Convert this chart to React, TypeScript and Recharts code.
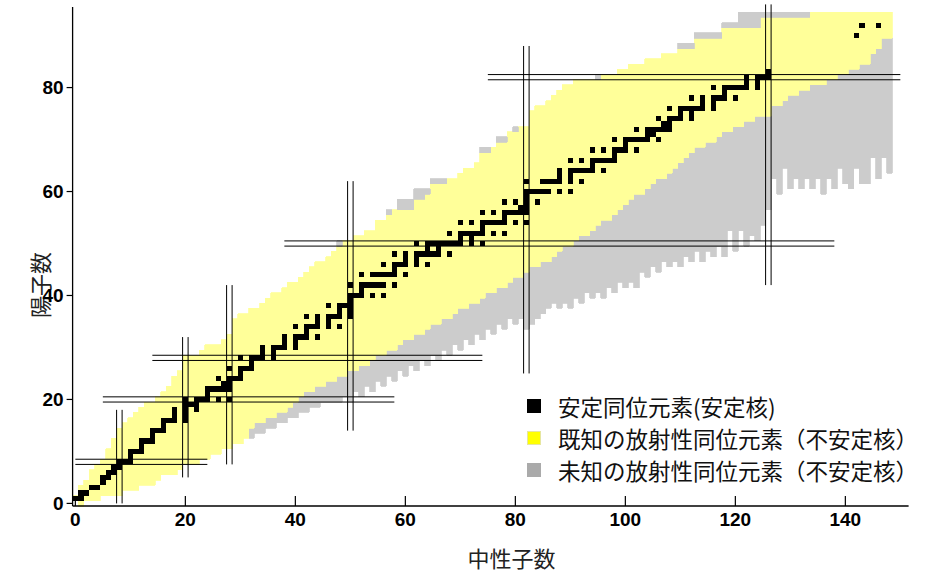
import React from 'react';
import { ComposedChart, XAxis, YAxis, Scatter, ReferenceArea, ReferenceLine, Legend } from 'recharts';

// ---- data (index of each column array = neutron number N) ----
const YELLOW_TOP: number[] = [
  1, 3, 4, 6, 7, 8, 10, 12, 14, 15,
  16, 17, 18, 19, 19, 20, 21, 22, 24, 25,
  28, 28, 28, 29, 30, 30, 30, 31, 32, 35,
  36, 36, 37, 37, 38, 39, 40, 40, 41, 42,
  42, 43, 44, 45, 46, 46, 47, 48, 49, 50,
  50, 51, 51, 52, 52, 54, 54, 55, 56, 56,
  56, 57, 58, 58, 59, 61, 61, 61, 62, 62,
  63, 64, 64, 65, 67, 67, 68, 69, 69, 71,
  71, 72, 72, 75, 76, 76, 77, 78, 79, 80,
  80, 81, 81, 81, 81, 81, 82, 82, 82, 83,
  83, 84, 84, 84, 85, 85, 85, 86, 86, 86,
  87, 87, 87, 89, 89, 89, 89, 89, 91, 91,
  91, 91, 91, 91, 91, 93, 93, 93, 93, 93,
  93, 93, 93, 93, 94, 94, 94, 94, 94, 94,
  94, 94, 94, 94, 94, 94, 94, 94, 94,
];
const YELLOW_BOT: number[] = [
  1, 0, 1, 1, 1, 2, 2, 2, 2, 3,
  3, 3, 4, 4, 4, 5, 6, 6, 6, 7,
  8, 8, 8, 9, 9, 10, 10, 11, 11, 12,
  12, 13, 15, 16, 16, 17, 17, 18, 18, 19,
  20, 21, 22, 22, 23, 23, 24, 24, 25, 25,
  26, 26, 27, 27, 28, 29, 29, 30, 30, 31,
  32, 32, 33, 33, 34, 35, 35, 36, 36, 37,
  38, 38, 39, 39, 40, 41, 41, 42, 42, 43,
  44, 44, 45, 46, 46, 47, 47, 48, 49, 50,
  50, 51, 52, 52, 53, 54, 55, 55, 56, 57,
  58, 59, 60, 60, 61, 62, 63, 63, 64, 65,
  66, 67, 68, 69, 69, 70, 70, 71, 72, 72,
  73, 73, 74, 74, 75, 75, 75, 77, 77, 78,
  79, 79, 80, 80, 81, 81, 81, 82, 82, 83,
  83, 84, 84, 85, 85, 87, 88, 90, 90,
];
// lowest Z of the neutron-rich unknown (grey) band; it reaches up to the yellow
const GRAY_BOT: (number | null)[] = [
  null, null, null, null, null, null, null, null, null, null,
  null, null, null, null, null, null, null, null, null, null,
  null, null, null, null, null, null, null, null, null, null,
  null, null, 13, 14, 14, 15, 15, 16, 16, 17,
  17, 18, 18, 19, 19, 20, 20, 20, 20, 21,
  20, 22, 21, 23, 22, 24, 23, 25, 24, 26,
  25, 27, 26, 28, 27, 29, 28, 30, 29, 31,
  30, 32, 31, 33, 32, 34, 33, 35, 34, 36,
  35, 36, 34, 35, 36, 37, 38, 39, 38, 39,
  38, 40, 39, 41, 40, 41, 40, 42, 41, 43,
  42, 43, 42, 45, 44, 46, 45, 47, 46, 47,
  46, 48, 47, 49, 47, 49, 48, 50, 48, 53,
  49, 53, 50, 52, 51, 54, 57, 63, 60, 65,
  61, 63, 61, 63, 61, 63, 60, 63, 61, 65,
  62, 61, 65, 62, 62, 67, 63, 67, 64,
];
// proton-rich unknown (grey) cells sitting above the yellow
const CAP_N = [48, 57, 59, 60, 61, 62, 63, 64, 65, 66, 67, 74, 75, 77, 78, 80, 95, 110, 111, 112, 113, 114, 115, 116, 117, 118, 119, 120, 121, 122, 123, 124, 125, 126, 127, 128, 129, 130, 131, 132, 133];
const CAP_LO = [50, 56, 57, 57, 57, 59, 59, 60, 62, 62, 62, 68, 68, 70, 70, 72, 82, 88, 88, 88, 90, 90, 90, 90, 90, 92, 92, 92, 92, 92, 92, 92, 94, 94, 94, 94, 94, 94, 94, 94, 94];
const CAP_HI = [50, 56, 58, 58, 58, 60, 60, 60, 62, 62, 62, 68, 68, 70, 70, 72, 82, 88, 88, 88, 90, 90, 90, 90, 90, 92, 92, 92, 94, 94, 94, 94, 94, 94, 94, 94, 94, 94, 94, 94, 94];

// stable nuclides: [Z, list of N]
const STABLE: [number, number[]][] = [
  [1, [0, 1]], [2, [1, 2]], [3, [3, 4]], [4, [5]], [5, [5, 6]], [6, [6, 7]], [7, [7, 8]], [8, [8, 9, 10]], [9, [10]], [10, [10, 11, 12]],
  [11, [12]], [12, [12, 13, 14]], [13, [14]], [14, [14, 15, 16]], [15, [16]], [16, [16, 17, 18, 20]], [17, [18, 20]], [18, [18, 20, 22]], [19, [20, 21, 22]], [20, [20, 22, 23, 24, 26, 28]],
  [21, [24]], [22, [24, 25, 26, 27, 28]], [23, [27, 28]], [24, [26, 28, 29, 30]], [25, [30]], [26, [28, 30, 31, 32]], [27, [32]], [28, [30, 32, 33, 34, 36]], [29, [34, 36]], [30, [34, 36, 37, 38, 40]],
  [31, [38, 40]], [32, [38, 40, 41, 42, 44]], [33, [42]], [34, [40, 42, 43, 44, 46, 48]], [35, [44, 46]], [36, [42, 44, 46, 47, 48, 50]], [37, [48, 50]], [38, [46, 48, 49, 50]], [39, [50]], [40, [50, 51, 52, 54, 56]],
  [41, [52]], [42, [50, 52, 53, 54, 55, 56, 58]], [44, [52, 54, 55, 56, 57, 58, 60]], [45, [58]], [46, [56, 58, 59, 60, 62, 64]], [47, [60, 62]], [48, [58, 60, 62, 63, 64, 65, 66, 68]], [49, [64, 66]], [50, [62, 64, 65, 66, 67, 68, 69, 70, 72, 74]],
  [51, [70, 72]], [52, [68, 70, 71, 72, 73, 74, 76, 78]], [53, [74]], [54, [70, 72, 74, 75, 76, 77, 78, 80, 82]], [55, [78]], [56, [74, 76, 78, 79, 80, 81, 82]], [57, [81, 82]], [58, [78, 80, 82, 84]], [59, [82]], [60, [82, 83, 84, 85, 86, 88, 90]],
  [62, [82, 85, 86, 87, 88, 90, 92]], [63, [88, 90]], [64, [88, 90, 91, 92, 93, 94, 96]], [65, [94]], [66, [90, 92, 94, 95, 96, 97, 98]], [67, [98]], [68, [94, 96, 98, 99, 100, 102]], [69, [100]], [70, [98, 100, 101, 102, 103, 104, 106]],
  [71, [104, 105]], [72, [102, 104, 105, 106, 107, 108]], [73, [107, 108]], [74, [106, 108, 109, 110, 112]], [75, [110, 112]], [76, [108, 110, 111, 112, 113, 114, 116]], [77, [114, 116]], [78, [112, 114, 116, 117, 118, 120]], [79, [118]], [80, [116, 118, 119, 120, 121, 122, 124]],
  [81, [122, 124]], [82, [122, 124, 125, 126]], [83, [126]], [90, [142]], [92, [143, 146]],
];

// magic numbers (double lines) and their extents
const MAGIC_N = [8, 20, 28, 50, 82, 126];
const MAGIC_N_ZFROM = [0, 5, 7.5, 14, 25, 42];
const MAGIC_N_ZTO = [18, 32, 42, 62, 88, 96];
const MAGIC_Z = [8, 20, 28, 50, 82];
const MAGIC_Z_NFROM = [0, 5, 14, 38, 75];
const MAGIC_Z_NTO = [24, 58, 74, 138, 150];

const X_TICKS = [0, 20, 40, 60, 80, 100, 120, 140];
const Y_TICKS = [0, 20, 40, 60, 80];

const LEGEND_LABELS = ['安定同位元素(安定核)', '既知の放射性同位元素（不安定核）', '未知の放射性同位元素（不安定核）'];
const LEGEND_COLORS = ['#000000', '#ffff00', '#aaaaaa'];

// ---- styling ----
const YELLOW = '#ffff99';
const GRAY = '#cccccc';
const TICK_FONT = 'Liberation Sans, Arial, Helvetica, sans-serif';
const CJK_FONT = '"Noto Sans CJK JP", "Noto Sans CJK SC", sans-serif';

const STABLE_POINTS = STABLE.flatMap(([z, ns]) => ns.map((n) => ({ n, z })));

const XTick = (props: any) => {
  const { x, y, payload } = props;
  return (
    <g>
      <line x1={x} x2={x} y1={y} y2={y - 10} stroke="#000" strokeWidth={1.2} />
      <text x={x} y={y + 20} textAnchor="middle" fontFamily={TICK_FONT} fontWeight="bold" fontSize={19} fill="#000">
        {payload.value}
      </text>
    </g>
  );
};

const StableCell = (props: any) => {
  const { cx, cy } = props;
  if (cx == null || cy == null) return null;
  return <rect x={cx - 2.75} y={cy - 2.6} width={5.5} height={5.2} fill="#000" shapeRendering="crispEdges" />;
};

const XTitle = (props: any) => {
  const vb = props.viewBox || { x: 0, y: 0, width: 0, height: 0 };
  return (
    <text x={vb.x + vb.width / 2 + 21} y={vb.y + 51} textAnchor="middle" dominantBaseline="central" fontFamily={CJK_FONT} fontSize={22} fill="#222">
      中性子数
    </text>
  );
};

const YTitle = (props: any) => {
  const vb = props.viewBox || { x: 0, y: 0, width: 0, height: 0 };
  const x = vb.x + 16;
  const y = vb.y + 278;
  return (
    <text x={x} y={y} transform={`rotate(-90 ${x} ${y})`} textAnchor="middle" dominantBaseline="central" fontFamily={CJK_FONT} fontSize={22} fill="#222">
      陽子数
    </text>
  );
};

const LegendBox = () => (
  <div style={{ fontFamily: CJK_FONT, fontSize: 22.5, color: '#111' }}>
    {LEGEND_LABELS.map((label, i) => (
      <div key={label} style={{ display: 'flex', alignItems: 'center', height: 32, whiteSpace: 'nowrap' }}>
        <div
          style={{
            width: 14,
            height: 14,
            marginLeft: 7,
            marginRight: 17,
            background: LEGEND_COLORS[i],
            boxSizing: 'border-box',
            border: i === 1 ? '1px solid #e6e6a0' : 'none',
            flex: 'none',
          }}
        />
        <span>{label}</span>
      </div>
    ))}
  </div>
);

const cellProps = (fill: string) => ({
  fill,
  fillOpacity: 1,
  stroke: fill,
  strokeWidth: 0.8,
  shapeRendering: 'crispEdges',
  ifOverflow: 'visible' as const,
});

export default function App() {
  return (
    <div style={{ position: 'absolute', left: 0, top: 0, width: 926, height: 572, background: '#fff' }}>
      <ComposedChart width={926} height={572} margin={{ top: 7, right: 17.4, bottom: 36, left: 22.6 }}>
        <XAxis
          type="number"
          dataKey="n"
          domain={[-0.5, 151.5]}
          allowDataOverflow
          ticks={X_TICKS}
          interval={0}
          tick={XTick}
          tickLine={false}
          tickSize={0}
          tickMargin={0}
          height={30}
          axisLine={{ stroke: '#000', strokeWidth: 1.3 }}
          label={{ content: XTitle }}
        />
        <YAxis
          type="number"
          dataKey="z"
          domain={[-0.5, 95.5]}
          allowDataOverflow
          ticks={Y_TICKS}
          interval={0}
          width={50}
          tickSize={6}
          tickMargin={3}
          tickLine={{ stroke: '#000', strokeWidth: 1.2 }}
          axisLine={{ stroke: '#000', strokeWidth: 1.3 }}
          tick={{ fontFamily: TICK_FONT, fontWeight: 'bold', fontSize: 19, fill: '#000' }}
          label={{ content: YTitle }}
        />
        {GRAY_BOT.map((b, n) =>
          b == null ? null : (
            <ReferenceArea key={`g${n}`} x1={n - 0.5} x2={n + 0.5} y1={b - 0.5} y2={YELLOW_BOT[n] - 0.5} {...cellProps(GRAY)} />
          )
        )}
        {YELLOW_TOP.map((top, n) => (
          <ReferenceArea key={`y${n}`} x1={n - 0.5} x2={n + 0.5} y1={YELLOW_BOT[n] - 0.5} y2={top + 0.5} {...cellProps(YELLOW)} />
        ))}
        {CAP_N.map((n, i) => (
          <ReferenceArea key={`c${n}`} x1={n - 0.5} x2={n + 0.5} y1={CAP_LO[i] - 0.5} y2={CAP_HI[i] + 0.5} {...cellProps(GRAY)} />
        ))}
        <Scatter data={STABLE_POINTS} dataKey="z" shape={StableCell} isAnimationActive={false} legendType="none" />
        {MAGIC_N.flatMap((m, i) =>
          [m - 0.5, m + 0.5].map((x) => (
            <ReferenceLine
              key={`mn${m}_${x}`}
              segment={[{ x, y: MAGIC_N_ZFROM[i] }, { x, y: MAGIC_N_ZTO[i] }]}
              stroke="#000"
              strokeWidth={1}
              ifOverflow="visible"
            />
          ))
        )}
        {MAGIC_Z.flatMap((m, i) =>
          [m - 0.5, m + 0.5].map((y) => (
            <ReferenceLine
              key={`mz${m}_${y}`}
              segment={[{ x: MAGIC_Z_NFROM[i], y }, { x: MAGIC_Z_NTO[i], y }]}
              stroke="#000"
              strokeWidth={1}
              ifOverflow="visible"
            />
          ))
        )}
        <Legend
          layout="vertical"
          align="center"
          verticalAlign="middle"
          content={LegendBox}
          wrapperStyle={{ position: 'absolute', left: 520, top: 390, width: 406, height: 96 }}
        />
      </ComposedChart>
    </div>
  );
}
